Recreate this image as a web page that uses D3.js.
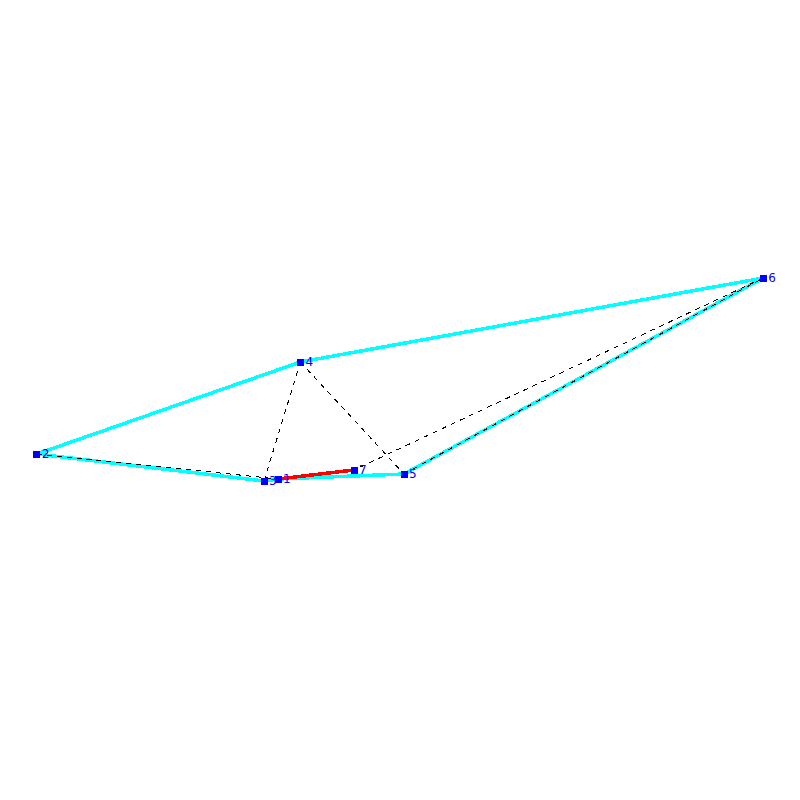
<!DOCTYPE html>
<html>
<head>
<meta charset="utf-8">
<script src="https://cdn.jsdelivr.net/npm/d3@7"></script>
<style>
html, body { margin: 0; padding: 0; background: #fff; }
svg { display: block; }
</style>
</head>
<body>
<svg id="chart"></svg>
<script>
const size = 800;

// node positions (percent of plot width / height)
const node_ids = [1, 2, 3, 4, 5, 6, 7];
const node_x = [34.75, 4.6, 33.0, 37.55, 50.5, 95.4, 44.25];
const node_y = [59.875, 56.75, 60.125, 45.25, 59.25, 34.75, 58.75];

// edges as [from, to]
const hull_edges = [[2, 4], [4, 6], [6, 5], [5, 1], [1, 3], [3, 2]];
const path_edges = [[1, 7]];
const dashed_edges = [[2, 1], [3, 4], [4, 5], [5, 6], [6, 7]];

const x = d3.scaleLinear().domain([0, 100]).range([0, size]);
const y = d3.scaleLinear().domain([0, 100]).range([0, size]);

const px = id => x(node_x[node_ids.indexOf(id)]);
const py = id => y(node_y[node_ids.indexOf(id)]);

const svg = d3.select("#chart")
	.attr("width", size)
	.attr("height", size);

function drawEdges(edges, colour, width, dash) {
	svg.append("g")
		.selectAll("line")
		.data(edges)
		.join("line")
		.attr("x1", d => px(d[0]))
		.attr("y1", d => py(d[0]))
		.attr("x2", d => px(d[1]))
		.attr("y2", d => py(d[1]))
		.attr("stroke", colour)
		.attr("stroke-width", width)
		.attr("stroke-dasharray", dash)
		.style("shape-rendering", "crispEdges");
}

drawEdges(hull_edges, "#00ffff", 3.5, null);
drawEdges(path_edges, "#ff0000", 3.5, null);
drawEdges(dashed_edges, "#000000", 1, "5,5");

svg.append("g")
	.selectAll("rect")
	.data(node_ids)
	.join("rect")
	.attr("x", d => px(d) - 3.5)
	.attr("y", d => py(d) - 3.5)
	.attr("width", 7)
	.attr("height", 7)
	.attr("fill", "#0000ff")
	.style("shape-rendering", "crispEdges");

svg.append("g")
	.selectAll("text")
	.data(node_ids)
	.join("text")
	.attr("x", d => px(d) + 5)
	.attr("y", d => py(d) + 4)
	.attr("fill", "#0000ff")
	.style("font", "12px 'DejaVu Sans'")
	.text(d => d);
</script>
</body>
</html>
